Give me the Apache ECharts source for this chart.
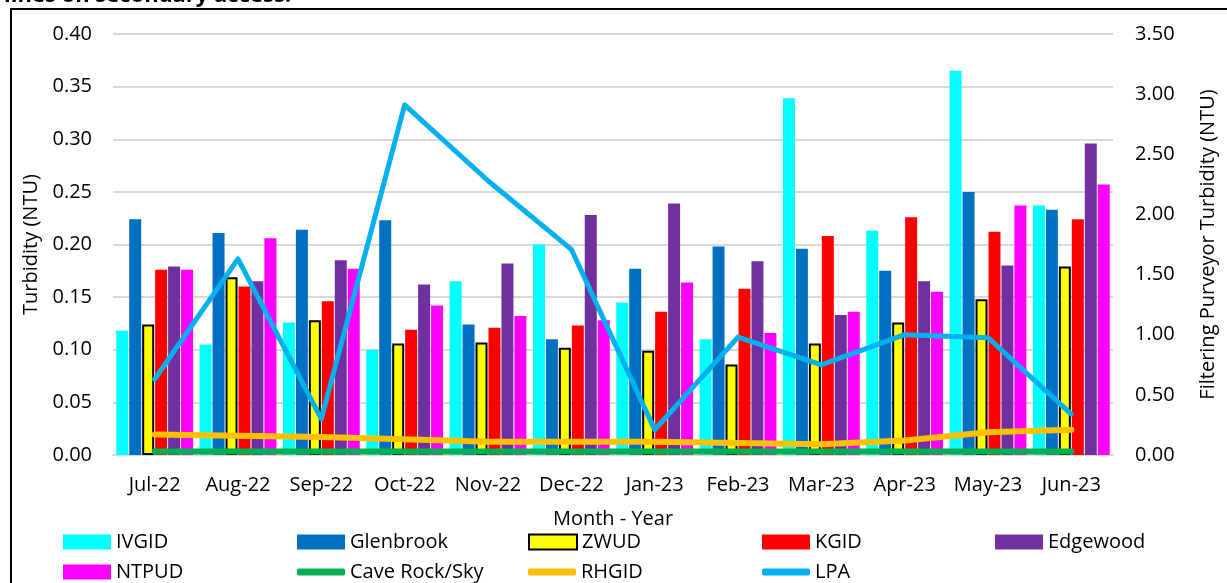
<!DOCTYPE html>
<html>
<head>
<meta charset="utf-8">
<script src="https://cdn.jsdelivr.net/npm/echarts@6/dist/echarts.min.js"></script>
<style>
  html, body { margin: 0; padding: 0; background: #fff; }
  #main { width: 1227px; height: 583px; }
</style>
</head>
<body>
<div id="main"></div>
<script>
// months on the x axis
const months = ['Jul-22', 'Aug-22', 'Sep-22', 'Oct-22', 'Nov-22', 'Dec-22',
  'Jan-23', 'Feb-23', 'Mar-23', 'Apr-23', 'May-23', 'Jun-23'];

// bar series (left axis, NTU)
const ivgid     = [0.118, 0.105, 0.126, 0.100, 0.165, 0.200, 0.145, 0.110, 0.339, 0.213, 0.365, 0.237];
const glenbrook = [0.224, 0.211, 0.214, 0.223, 0.124, 0.110, 0.177, 0.198, 0.196, 0.175, 0.250, 0.233];
const zwud      = [0.124, 0.169, 0.128, 0.106, 0.107, 0.102, 0.099, 0.086, 0.106, 0.126, 0.148, 0.179];
const kgid      = [0.176, 0.160, 0.146, 0.119, 0.121, 0.123, 0.136, 0.158, 0.208, 0.226, 0.212, 0.224];
const edgewood  = [0.179, 0.165, 0.185, 0.162, 0.182, 0.228, 0.239, 0.184, 0.133, 0.165, 0.180, 0.296];
const ntpud     = [0.176, 0.206, 0.177, 0.142, 0.132, 0.128, 0.164, 0.116, 0.136, 0.155, 0.237, 0.257];

// line series (right axis, filtering purveyors)
const caveRock  = [0.03, 0.03, 0.03, 0.03, 0.03, 0.03, 0.03, 0.03, 0.03, 0.03, 0.03, 0.03];
const rhgid     = [0.17, 0.16, 0.15, 0.13, 0.11, 0.11, 0.11, 0.10, 0.09, 0.12, 0.19, 0.21];
const lpa       = [0.63, 1.63, 0.30, 2.91, 2.28, 1.71, 0.21, 0.98, 0.75, 1.00, 0.975, 0.34];

const font = 'Open Sans';
const txt = { color: '#000', fontFamily: font, fontSize: 20 };

function bar(name, data, color, extra) {
  return Object.assign({
    name: name, type: 'bar', data: data, barWidth: 12, barGap: '8%',
    itemStyle: { color: color }
  }, extra || {});
}

function line(name, data, color, width, z) {
  return {
    name: name, type: 'line', yAxisIndex: 1, data: data, symbol: 'none', z: z,
    lineStyle: { color: color, width: width, cap: 'round', join: 'round' },
    itemStyle: { color: color }
  };
}

// one legend per entry so the entries sit in fixed columns like the original
function legendItem(left, top, name, isLine) {
  return {
    left: left, top: top, itemWidth: 48, itemHeight: isLine ? 7 : 15,
    icon: isLine ? 'roundRect' : 'rect', itemGap: 6,
    textStyle: txt, data: [name], selectedMode: false, padding: 0
  };
}

const row1 = 532, row2 = 562;

const chart = echarts.init(document.getElementById('main'));
chart.setOption({
  animation: false,
  backgroundColor: '#fff',
  graphic: [
    { type: 'rect', shape: { x: 11, y: 9, width: 1240, height: 600 },
      style: { fill: 'none', stroke: '#000', lineWidth: 2 }, silent: true },
    { type: 'text', left: 4, top: -15,
      style: { text: 'lines on secondary access.', fill: '#000',
        font: 'bold 22px "Open Sans"' } }
  ],
  grid: { left: 113, right: 114, top: 34, bottom: 128 },
  legend: [
    legendItem(63, row1, 'IVGID'),
    legendItem(297, row1, 'Glenbrook'),
    legendItem(528, row1, 'ZWUD'),
    legendItem(762, row1, 'KGID'),
    legendItem(995, row1, 'Edgewood'),
    legendItem(63, row2, 'NTPUD'),
    legendItem(297, row2, 'Cave Rock/Sky', true),
    legendItem(528, row2, 'RHGID', true),
    legendItem(762, row2, 'LPA', true)
  ],
  xAxis: {
    type: 'category', data: months,
    name: 'Month - Year', nameLocation: 'middle', nameGap: 54,
    nameTextStyle: txt,
    axisLine: { lineStyle: { color: '#d9d9d9', width: 2 } },
    axisTick: { show: false },
    axisLabel: Object.assign({ margin: 20, interval: 0 }, txt)
  },
  yAxis: [
    {
      type: 'value', min: 0, max: 0.4, interval: 0.05,
      name: 'Turbidity (NTU)', nameLocation: 'middle', nameRotate: 90, nameGap: 72,
      nameTextStyle: txt,
      axisLabel: Object.assign({ margin: 21, formatter: v => v.toFixed(2) }, txt),
      splitLine: { lineStyle: { color: '#d9d9d9', width: 2 } },
      axisLine: { show: false }, axisTick: { show: false }
    },
    {
      type: 'value', min: 0, max: 3.5, interval: 0.5,
      name: 'Filtering Purveyor Turbidity (NTU)', nameLocation: 'middle', nameRotate: 90, nameGap: 85,
      nameTextStyle: txt,
      axisLabel: Object.assign({ margin: 22, formatter: v => v.toFixed(2) }, txt),
      splitLine: { show: false },
      axisLine: { show: false }, axisTick: { show: false }
    }
  ],
  series: [
    bar('IVGID', ivgid, '#00FFFF'),
    bar('Glenbrook', glenbrook, '#0070C0'),
    bar('ZWUD', zwud, '#FFFF00', { itemStyle: { color: '#FFFF00', borderColor: '#000', borderWidth: 2 } }),
    bar('KGID', kgid, '#FF0000'),
    bar('Edgewood', edgewood, '#7030A0'),
    bar('NTPUD', ntpud, '#FF00FF'),
    line('Cave Rock/Sky', caveRock, '#00B050', 6, 3),
    line('RHGID', rhgid, '#FFC000', 6, 4),
    line('LPA', lpa, '#00B0F0', 5, 5)
  ]
});
</script>
</body>
</html>
